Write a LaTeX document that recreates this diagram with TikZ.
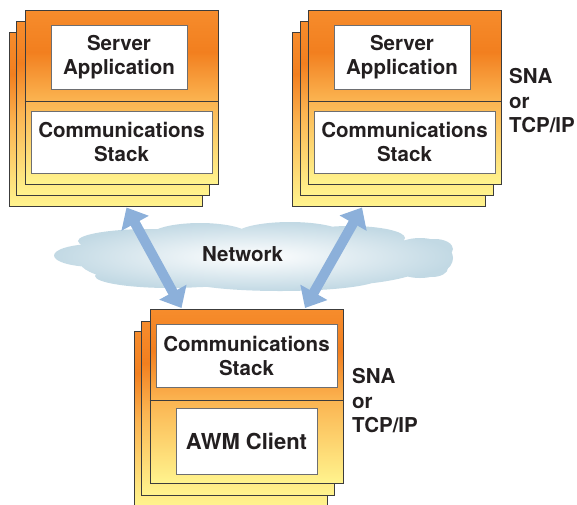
\documentclass[tikz,border=0pt]{standalone}
\usepackage{fontspec}
\setmainfont{TeX Gyre Heros}
\usetikzlibrary{arrows.meta}

\definecolor{cardtop}{HTML}{F68C2C}
\definecolor{cardorange}{HTML}{F27F1F}
\definecolor{cardmid}{HTML}{FBB451}
\definecolor{cardyellow}{HTML}{FFF48E}
\definecolor{cardline}{HTML}{3C3C3C}
\definecolor{boxline}{HTML}{6D6E71}
\definecolor{txt}{HTML}{231F20}
\definecolor{cloudblue}{HTML}{C2D9E4}
\definecolor{linkblue}{HTML}{8CB0DA}

\pgfdeclareverticalshading{cardshade}{100bp}{color(0bp)=(cardyellow); color(25bp)=(cardyellow); color(49bp)=(cardmid); color(63bp)=(cardorange); color(75bp)=(cardtop); color(100bp)=(cardtop)}

\tikzset{
  card/.style={rectangle, draw=cardline, line width=1pt, shade, shading=cardshade,
    minimum width=193pt, minimum height=174pt, inner sep=0pt},
  inbox/.style={rectangle, draw=boxline, line width=0.9pt, fill=white, inner sep=0pt,
    align=center, text=txt, font=\bfseries\fontsize{20.5pt}{24pt}\selectfont},
  lbl/.style={inner sep=0pt, text=txt, font=\bfseries\fontsize{20.5pt}{24.5pt}\selectfont},
  proto/.style={lbl, anchor=west, align=left},
  link/.style={draw=linkblue, line width=10pt,
    {Triangle[width=30pt,length=18pt]}-{Triangle[width=30pt,length=18pt]}}
}

\begin{document}
\begin{tikzpicture}[x=1pt,y=-1pt]
\useasboundingbox (0,0) rectangle (577,504);

% network cloud
\shade[inner color=white, outer color=cloudblue]
  (95,255.5) ellipse [x radius=41pt, y radius=11.5pt]
  (150,241) ellipse [x radius=72pt, y radius=12pt]
  (170,276) ellipse [x radius=75pt, y radius=12pt]
  (200,262) ellipse [x radius=120pt, y radius=25pt]
  (200,236) ellipse [x radius=50pt, y radius=13pt]
  (290,235) ellipse [x radius=55pt, y radius=13pt]
  (350,238) ellipse [x radius=55pt, y radius=12pt]
  (280,278) ellipse [x radius=100pt, y radius=13pt]
  (320,262) ellipse [x radius=110pt, y radius=24pt]
  (420,258) ellipse [x radius=33pt, y radius=20pt]
  (435,249) ellipse [x radius=18pt, y radius=10pt]
  (432,268) ellipse [x radius=16pt, y radius=9pt];
\node[lbl] (net) at (242.5,254.5) {Network};

% stacks of cards
\foreach \n/\x/\y in {l/121.5/97, r/405/97, c/246.5/396.5}{
  \node[card] (\n back) at (\x-16,\y+22) {};
  \node[card] (\n mid) at (\x-8.5,\y+11.5) {};
  \node[card] (\n front) at (\x,\y) {};
  \draw[cardline, line width=1pt] ([yshift=-4pt]\n front.west) -- ([yshift=-4pt]\n front.east);
}

\node[inbox, minimum width=136pt, minimum height=64pt] (lapp) at (119,57) {Server\\Application};
\node[inbox, minimum width=181pt, minimum height=62pt] (lstack) at (121.5,142) {Communications\\Stack};
\node[inbox, minimum width=136pt, minimum height=64pt] (rapp) at (402,57) {Server\\Application};
\node[inbox, minimum width=181pt, minimum height=62pt] (rstack) at (404.5,142) {Communications\\Stack};
\node[inbox, minimum width=181pt, minimum height=63pt] (cstack) at (246.5,355.5) {Communications\\Stack};
\node[inbox, minimum width=141pt, minimum height=66pt, font=\bfseries\fontsize{22pt}{26pt}\selectfont] (cawm) at (246.5,441) {AWM Client};

\node[proto] (rproto) at (509,101) {SNA\\or\\TCP/IP};
\node[proto] (cproto) at (352,401) {SNA\\or\\TCP/IP};

% links through the network
\draw[link] ([xshift=21pt,yshift=-1pt]lback.south) -- ([xshift=-65pt,yshift=1pt]cfront.north);
\draw[link] ([xshift=-27pt,yshift=-1pt]rback.south) -- ([xshift=58.5pt,yshift=1pt]cfront.north);
\end{tikzpicture}
\end{document}
